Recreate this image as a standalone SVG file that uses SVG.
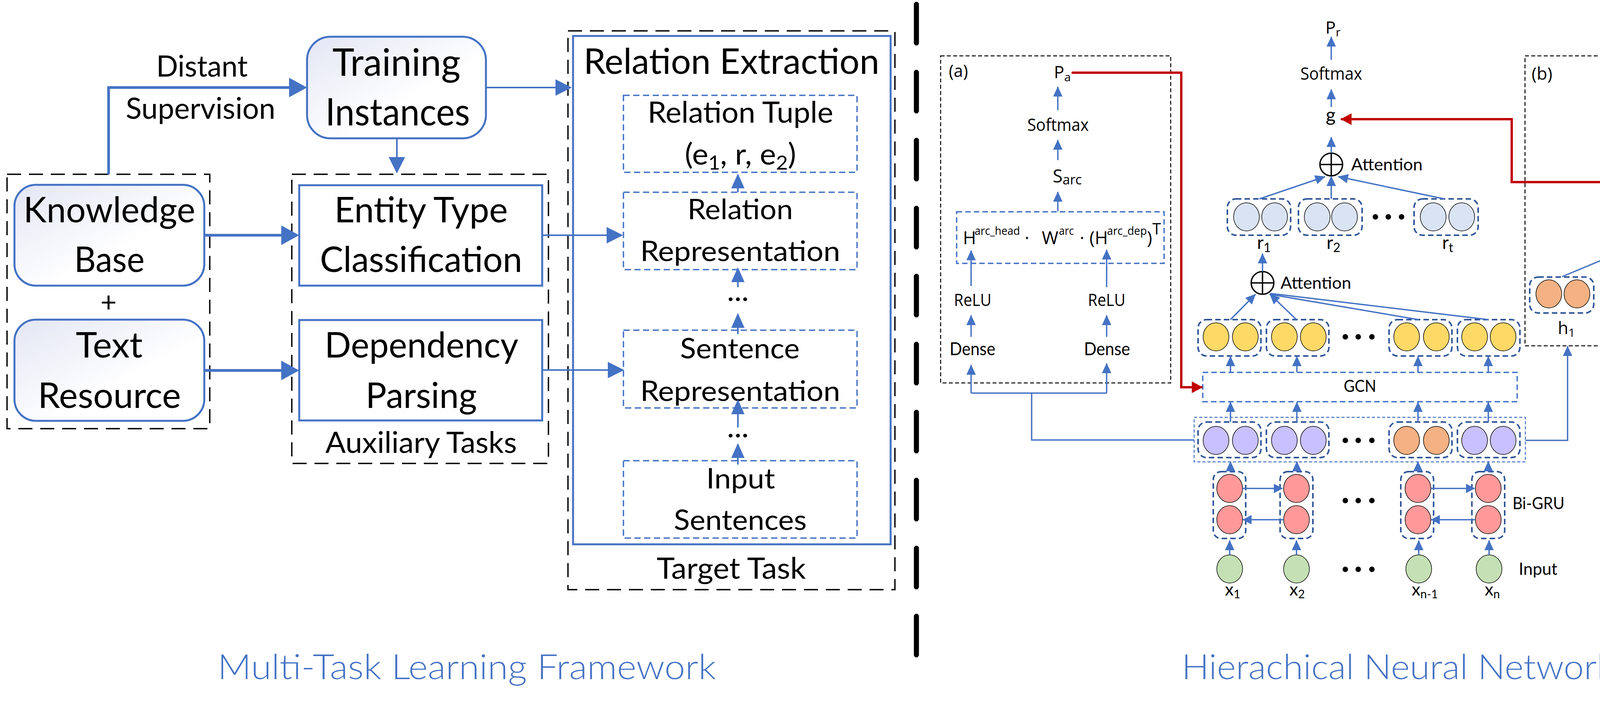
<svg xmlns="http://www.w3.org/2000/svg" width="4583" height="1817" viewBox="0 0 4583 1817">
<defs>
<style>
text{font-family:Lato,"Liberation Sans",sans-serif;fill:#000}
.os{font-family:"Open Sans","Liberation Sans",sans-serif}
.title{fill:#4472C4;font-weight:300;font-size:88px}
.kd{fill:none;stroke:#000;stroke-width:3.5;stroke-dasharray:36 20}
.kt{fill:none;stroke:#000;stroke-width:2.5;stroke-dasharray:10 6}
.rbox{fill:url(#grad);stroke:#4472C4;stroke-width:5}
.sbox{fill:#fff;stroke:#4472C4;stroke-width:5}
.bd{fill:none;stroke:#4472C4;stroke-width:3.5;stroke-dasharray:16 9}
.bdt{fill:none;stroke:#4472C4;stroke-width:2.5;stroke-dasharray:8 5}
.grp{fill:none;stroke:#2F5597;stroke-width:4;stroke-dasharray:14 8}
.e{stroke:#000;stroke-width:1.5}
.yel{fill:#FFD966}.pur{fill:#C9C0FF}.ora{fill:#F4B183}.rd{fill:#FF9999}.grn{fill:#C5E0B4}.lb{fill:#DAE3F3}
.thick{fill:none;stroke:#4472C4;stroke-width:7}
.mid{fill:none;stroke:#4472C4;stroke-width:4}
.thin{fill:none;stroke:#4472C4;stroke-width:3.5}
.redl{fill:none;stroke:#C00000;stroke-width:6;stroke-linecap:round}
.dot{fill:#000}
.op{fill:none;stroke:#000;stroke-width:3.5}
</style>
<linearGradient id="grad" x1="0" y1="0" x2="1" y2="1">
<stop offset="0" stop-color="#E3E6F4"/><stop offset="0.6" stop-color="#FFFFFF"/>
</linearGradient>
<marker id="aThick" markerUnits="userSpaceOnUse" markerWidth="46" markerHeight="50" refX="39" refY="25" orient="auto"><path d="M0,0 L46,25 L0,50 z" fill="#4472C4"/></marker>
<marker id="aMid" markerUnits="userSpaceOnUse" markerWidth="42" markerHeight="42" refX="38" refY="21" orient="auto"><path d="M0,0 L42,21 L0,42 z" fill="#4472C4"/></marker>
<marker id="aSm" markerUnits="userSpaceOnUse" markerWidth="38" markerHeight="34" refX="35" refY="17" orient="auto"><path d="M0,0 L38,17 L0,34 z" fill="#4472C4"/></marker>
<marker id="aT" markerUnits="userSpaceOnUse" markerWidth="26" markerHeight="24" refX="25" refY="12" orient="auto"><path d="M0,0 L26,12 L0,24 z" fill="#4472C4"/></marker>
<marker id="aG" markerUnits="userSpaceOnUse" markerWidth="23" markerHeight="24" refX="22" refY="12" orient="auto"><path d="M0,0 L23,12 L0,24 z" fill="#4472C4"/></marker>
<marker id="aR" markerUnits="userSpaceOnUse" markerWidth="28" markerHeight="30" refX="25" refY="15" orient="auto"><path d="M0,0 L28,15 L0,30 z" fill="#C00000"/></marker>
</defs>
<rect width="4583" height="1817" fill="#fff"/>

<!-- LEFT PANEL -->
<g id="kb-group"><rect class="kd" x="18" y="446" width="519" height="651"/>
<text x="278" y="798" font-size="72" text-anchor="middle">+</text></g>
<g id="knowledge-base"><rect class="rbox" x="37" y="473" width="486" height="258" rx="55"/>
<text x="60" y="569" font-size="92" textLength="440" lengthAdjust="spacingAndGlyphs">Knowledge</text>
<text x="190" y="696" font-size="92" textLength="180" lengthAdjust="spacingAndGlyphs">Base</text></g>
<g id="text-resource"><rect class="rbox" x="37" y="818" width="486" height="259" rx="55"/>
<text x="194" y="915" font-size="92" textLength="171" lengthAdjust="spacingAndGlyphs">Text</text>
<text x="97" y="1044" font-size="92" textLength="366" lengthAdjust="spacingAndGlyphs">Resource</text></g>
<g id="training-instances"><rect class="rbox" x="786" y="94" width="458" height="260" rx="60"/>
<text x="851" y="194" font-size="96" textLength="328" lengthAdjust="spacingAndGlyphs">Training</text>
<text x="833" y="321" font-size="96" textLength="370" lengthAdjust="spacingAndGlyphs">Instances</text></g>
<g id="auxiliary-tasks"><rect class="kd" x="747" y="446" width="657" height="740"/>
<text x="833" y="1159" font-size="76" textLength="490" lengthAdjust="spacingAndGlyphs">Auxiliary Tasks</text></g>
<g id="entity-type"><rect class="sbox" x="766" y="474" width="622" height="257"/>
<text x="856" y="569" font-size="92" textLength="444" lengthAdjust="spacingAndGlyphs">Entity Type</text>
<text x="819" y="696" font-size="92" textLength="518" lengthAdjust="spacingAndGlyphs">Classification</text></g>
<g id="dependency-parsing"><rect class="sbox" x="766" y="819" width="622" height="257"/>
<text x="831" y="915" font-size="92" textLength="496" lengthAdjust="spacingAndGlyphs">Dependency</text>
<text x="936" y="1044" font-size="92" textLength="285" lengthAdjust="spacingAndGlyphs">Parsing</text></g>
<g id="target-task"><rect class="kd" x="1454" y="79" width="837" height="1430"/>
<text x="1681" y="1481" font-size="75" textLength="382" lengthAdjust="spacingAndGlyphs">Target Task</text></g>
<g id="relation-extraction"><rect fill="none" stroke="#4472C4" stroke-width="5" x="1467" y="92" width="813" height="1301"/>
<text x="1494" y="189" font-size="92" textLength="757" lengthAdjust="spacingAndGlyphs">Relation Extraction</text></g>
<g id="relation-tuple"><rect class="bd" x="1596" y="244" width="598" height="197"/>
<text x="1658" y="314" font-size="75" textLength="475" lengthAdjust="spacingAndGlyphs">Relation Tuple</text>
<text x="1753" y="421" font-size="75" textLength="285" lengthAdjust="spacingAndGlyphs">(e<tspan font-size="50" dy="13">1</tspan><tspan dy="-13">, r, e</tspan><tspan font-size="50" dy="13">2</tspan><tspan dy="-13">)</tspan></text></g>
<g id="relation-representation"><rect class="bd" x="1596" y="492" width="598" height="198"/>
<text x="1760" y="561" font-size="72" textLength="270" lengthAdjust="spacingAndGlyphs">Relation</text>
<text x="1639" y="668" font-size="72" textLength="512" lengthAdjust="spacingAndGlyphs">Representation</text></g>
<text id="dots-1" x="1861" y="770" font-size="75" textLength="56" lengthAdjust="spacingAndGlyphs">...</text>
<g id="sentence-representation"><rect class="bd" x="1596" y="845" width="598" height="199"/>
<text x="1741" y="917" font-size="72" textLength="306" lengthAdjust="spacingAndGlyphs">Sentence</text>
<text x="1639" y="1026" font-size="72" textLength="512" lengthAdjust="spacingAndGlyphs">Representation</text></g>
<text id="dots-2" x="1861" y="1119" font-size="75" textLength="56" lengthAdjust="spacingAndGlyphs">...</text>
<g id="input-sentences"><rect class="bd" x="1596" y="1179" width="598" height="198"/>
<text x="1808" y="1250" font-size="72" textLength="176" lengthAdjust="spacingAndGlyphs">Input</text>
<text x="1725" y="1356" font-size="72" textLength="340" lengthAdjust="spacingAndGlyphs">Sentences</text></g>
<g id="distant-supervision-label">
<text x="400" y="196" font-size="75" textLength="234" lengthAdjust="spacingAndGlyphs">Distant</text>
<text x="322" y="304" font-size="75" textLength="383" lengthAdjust="spacingAndGlyphs">Supervision</text></g>
<text id="title-left" class="title" x="557" y="1738" textLength="1276" lengthAdjust="spacingAndGlyphs">Multi-Task Learning Framework</text>

<!-- divider -->
<line id="divider" x1="2346" y1="11" x2="2346" y2="1690" stroke="#000" stroke-width="13" stroke-linecap="round" stroke-dasharray="99 75"/>

<!-- RIGHT PANEL nodes -->
<g id="box-a"><rect class="kt" x="2408" y="143" width="589" height="837"/>
<text class="os" x="2429" y="197" font-size="44" textLength="49" lengthAdjust="spacingAndGlyphs">(a)</text></g>
<text id="pa" class="os" x="2698" y="200" font-size="44">P<tspan font-size="30" dy="8">a</tspan></text>
<text id="softmax-a" class="os" x="2630" y="335" font-size="44" textLength="157" lengthAdjust="spacingAndGlyphs">Softmax</text>
<text id="sarc" class="os" x="2695" y="467" font-size="46">S<tspan font-size="34" dy="5">arc</tspan></text>
<g id="biaffine"><rect class="bd" x="2449" y="542" width="531" height="132" style="stroke-dasharray:14 8"/>
<text class="os" x="2465" y="625" font-size="46">H</text>
<text class="os" x="2495" y="601" font-size="30" textLength="116" lengthAdjust="spacingAndGlyphs">arc_head</text>
<text class="os" x="2629" y="625" font-size="46" text-anchor="middle">·</text>
<text class="os" x="2667" y="625" font-size="46">W</text>
<text class="os" x="2711" y="601" font-size="30" textLength="38" lengthAdjust="spacingAndGlyphs">arc</text>
<text class="os" x="2770" y="625" font-size="46" text-anchor="middle">·</text>
<text class="os" x="2789" y="625" font-size="46">(H</text>
<text class="os" x="2834" y="601" font-size="30" textLength="102" lengthAdjust="spacingAndGlyphs">arc_dep</text>
<text class="os" x="2936" y="625" font-size="46">)</text>
<text class="os" x="2950" y="600" font-size="40">T</text></g>
<text id="relu-l" class="os" x="2442" y="783" font-size="44" textLength="96" lengthAdjust="spacingAndGlyphs">ReLU</text>
<text id="relu-r" class="os" x="2785" y="783" font-size="44" textLength="96" lengthAdjust="spacingAndGlyphs">ReLU</text>
<text id="dense-l" x="2431" y="909" font-size="46" textLength="117" lengthAdjust="spacingAndGlyphs">Dense</text>
<text id="dense-r" x="2775" y="909" font-size="46" textLength="118" lengthAdjust="spacingAndGlyphs">Dense</text>

<text id="pr" class="os" x="3393" y="86" font-size="44">P<tspan font-size="30" dy="7">r</tspan></text>
<text id="softmax-r" class="os" x="3329" y="204" font-size="44" textLength="158" lengthAdjust="spacingAndGlyphs">Softmax</text>
<text id="g" x="3394" y="311" font-size="48">g</text>
<g id="att-top"><circle class="op" cx="3408" cy="421" r="29"/><path class="op" d="M3379,421 H3437 M3408,392 V450"/>
<text x="3459" y="436" font-size="42" textLength="183" lengthAdjust="spacingAndGlyphs">Attention</text></g>
<g id="r-1"><rect class="grp" x="3142" y="509" width="162" height="93" rx="22"/>
<ellipse class="e lb" cx="3191" cy="555" rx="33" ry="36"/><ellipse class="e lb" cx="3263" cy="555" rx="33" ry="36"/>
<text x="3218" y="637" font-size="46">r<tspan font-size="32" dy="8">1</tspan></text></g>
<g id="r-2"><rect class="grp" x="3324" y="509" width="163" height="93" rx="22"/>
<ellipse class="e lb" cx="3372" cy="555" rx="33" ry="36"/><ellipse class="e lb" cx="3442" cy="555" rx="33" ry="36"/>
<text x="3396" y="637" font-size="46">r<tspan font-size="32" dy="8">2</tspan></text></g>
<g id="r-t"><rect class="grp" x="3620" y="509" width="164" height="93" rx="22"/>
<ellipse class="e lb" cx="3669" cy="555" rx="33" ry="36"/><ellipse class="e lb" cx="3742" cy="555" rx="33" ry="36"/>
<text x="3692" y="637" font-size="46">r<tspan font-size="32" dy="8">t</tspan></text></g>
<g id="dots-r"><circle class="dot" cx="3521" cy="555" r="7"/><circle class="dot" cx="3554" cy="555" r="7"/><circle class="dot" cx="3588" cy="555" r="7"/></g>
<g id="att-low"><circle class="op" cx="3232" cy="724" r="29"/><path class="op" d="M3203,724 H3261 M3232,695 V753"/>
<text x="3278" y="739" font-size="42" textLength="181" lengthAdjust="spacingAndGlyphs">Attention</text></g>

<g id="gcn-out">
<rect class="grp" x="3067" y="818" width="161" height="93" rx="22"/>
<rect class="grp" x="3242" y="818" width="160" height="93" rx="22"/>
<rect class="grp" x="3556" y="818" width="161" height="93" rx="22"/>
<rect class="grp" x="3731" y="818" width="160" height="93" rx="22"/>
<ellipse class="e yel" cx="3113" cy="862" rx="33" ry="36"/><ellipse class="e yel" cx="3188" cy="862" rx="33" ry="36"/>
<ellipse class="e yel" cx="3288" cy="862" rx="33" ry="36"/><ellipse class="e yel" cx="3362" cy="862" rx="33" ry="36"/>
<ellipse class="e yel" cx="3601" cy="862" rx="33" ry="36"/><ellipse class="e yel" cx="3677" cy="862" rx="33" ry="36"/>
<ellipse class="e yel" cx="3775" cy="862" rx="33" ry="36"/><ellipse class="e yel" cx="3848" cy="862" rx="33" ry="36"/>
<circle class="dot" cx="3444" cy="862" r="7"/><circle class="dot" cx="3477" cy="862" r="7"/><circle class="dot" cx="3512" cy="862" r="7"/></g>
<g id="gcn"><rect class="bd" x="3079" y="953" width="805" height="75" style="stroke-dasharray:14 8"/>
<text x="3440" y="1003" font-size="42" textLength="83" lengthAdjust="spacingAndGlyphs">GCN</text></g>
<g id="bigru-out"><rect class="bdt" x="3057" y="1068" width="848" height="114"/>
<rect class="grp" x="3067" y="1080" width="161" height="91" rx="22"/>
<rect class="grp" x="3242" y="1080" width="160" height="91" rx="22"/>
<rect class="grp" x="3556" y="1080" width="161" height="91" rx="22"/>
<rect class="grp" x="3731" y="1080" width="160" height="91" rx="22"/>
<ellipse class="e pur" cx="3113" cy="1127" rx="33" ry="36"/><ellipse class="e pur" cx="3188" cy="1127" rx="33" ry="36"/>
<ellipse class="e pur" cx="3288" cy="1127" rx="33" ry="36"/><ellipse class="e pur" cx="3362" cy="1127" rx="33" ry="36"/>
<ellipse class="e ora" cx="3601" cy="1127" rx="33" ry="36"/><ellipse class="e ora" cx="3677" cy="1127" rx="33" ry="36"/>
<ellipse class="e pur" cx="3775" cy="1127" rx="33" ry="36"/><ellipse class="e pur" cx="3848" cy="1127" rx="33" ry="36"/>
<circle class="dot" cx="3444" cy="1127" r="7"/><circle class="dot" cx="3477" cy="1127" r="7"/><circle class="dot" cx="3512" cy="1127" r="7"/></g>
<g id="bigru">
<rect class="grp" x="3106" y="1207" width="83" height="171" rx="20"/>
<rect class="grp" x="3277" y="1207" width="84" height="171" rx="20"/>
<rect class="grp" x="3586" y="1207" width="84" height="171" rx="20"/>
<rect class="grp" x="3768" y="1207" width="84" height="171" rx="20"/>
<ellipse class="e rd" cx="3148" cy="1250" rx="33" ry="36"/><ellipse class="e rd" cx="3148" cy="1330" rx="33" ry="36"/>
<ellipse class="e rd" cx="3319" cy="1250" rx="33" ry="36"/><ellipse class="e rd" cx="3319" cy="1330" rx="33" ry="36"/>
<ellipse class="e rd" cx="3630" cy="1250" rx="33" ry="36"/><ellipse class="e rd" cx="3630" cy="1330" rx="33" ry="36"/>
<ellipse class="e rd" cx="3810" cy="1250" rx="33" ry="36"/><ellipse class="e rd" cx="3810" cy="1330" rx="33" ry="36"/>
<circle class="dot" cx="3444" cy="1281" r="7"/><circle class="dot" cx="3477" cy="1281" r="7"/><circle class="dot" cx="3512" cy="1281" r="7"/>
<text x="3872" y="1303" font-size="43" textLength="133" lengthAdjust="spacingAndGlyphs">Bi-GRU</text></g>
<g id="input">
<ellipse class="e grn" cx="3148" cy="1456" rx="33" ry="36"/><ellipse class="e grn" cx="3319" cy="1456" rx="33" ry="36"/>
<ellipse class="e grn" cx="3632" cy="1456" rx="33" ry="36"/><ellipse class="e grn" cx="3812" cy="1456" rx="33" ry="36"/>
<circle class="dot" cx="3444" cy="1457" r="7"/><circle class="dot" cx="3477" cy="1457" r="7"/><circle class="dot" cx="3512" cy="1457" r="7"/>
<text x="3888" y="1471" font-size="43" textLength="99" lengthAdjust="spacingAndGlyphs">Input</text>
<text x="3136" y="1524" font-size="44">x<tspan font-size="30" dy="7">1</tspan></text>
<text x="3301" y="1524" font-size="44">x<tspan font-size="30" dy="7">2</tspan></text>
<text x="3614" y="1524" font-size="44">x<tspan font-size="30" dy="7">n-1</tspan></text>
<text x="3801" y="1524" font-size="44">x<tspan font-size="30" dy="7">n</tspan></text></g>

<g id="box-b"><rect class="kt" x="3904" y="143" width="674" height="742"/>
<text class="os" x="3921" y="204" font-size="44" textLength="53" lengthAdjust="spacingAndGlyphs">(b)</text></g>
<text id="pe" class="os" x="4169" y="201" font-size="44">P<tspan font-size="30" dy="6">e</tspan></text>
<text id="softmax-b" class="os" x="4107" y="328" font-size="44" textLength="158" lengthAdjust="spacingAndGlyphs">Softmax</text>
<text id="ehead" class="os" x="4172" y="480" font-size="44">e<tspan x="4195" font-size="30" dy="7">head</tspan><tspan x="4271" dy="-7">(</tspan><tspan x="4294">e</tspan><tspan x="4320" font-size="30" dy="7">tail</tspan><tspan x="4372" dy="-7">)</tspan></text>
<g id="att-b"><circle class="op" cx="4188" cy="597" r="30"/><path class="op" d="M4158,597 H4218 M4188,567 V627"/>
<text class="os" x="4234" y="607" font-size="44" textLength="183" lengthAdjust="spacingAndGlyphs">Attention</text></g>
<g id="h-groups">
<rect class="grp" x="3916" y="709" width="164" height="92" rx="22"/>
<rect class="grp" x="4101" y="709" width="164" height="92" rx="22"/>
<rect class="grp" x="4398" y="709" width="164" height="92" rx="22"/>
<ellipse class="e ora" cx="3965" cy="752" rx="33" ry="36"/><ellipse class="e ora" cx="4037" cy="752" rx="33" ry="36"/>
<ellipse class="e ora" cx="4148" cy="752" rx="33" ry="36"/><ellipse class="e ora" cx="4218" cy="752" rx="33" ry="36"/>
<ellipse class="e ora" cx="4445" cy="752" rx="33" ry="36"/><ellipse class="e ora" cx="4516" cy="752" rx="33" ry="36"/>
<circle class="dot" cx="4298" cy="752" r="7"/><circle class="dot" cx="4332" cy="752" r="7"/><circle class="dot" cx="4366" cy="752" r="7"/>
<text class="os" x="3988" y="855" font-size="44">h<tspan font-size="30" dy="7">1</tspan></text>
<text class="os" x="4168" y="855" font-size="44">h<tspan font-size="30" dy="7">2</tspan></text>
<text class="os" x="4460" y="855" font-size="44">h<tspan font-size="30" dy="7">t</tspan></text></g>
<text id="title-right" class="title" x="3025" y="1738" textLength="1107" lengthAdjust="spacingAndGlyphs">Hierachical Neural Network</text>

<!-- CONNECTORS -->
<g id="connectors">
<path class="thick" d="M278,446 V224 H779" marker-end="url(#aThick)"/>
<path class="thick" d="M523,602 H759" marker-end="url(#aThick)"/>
<path class="thick" d="M523,948 H759" marker-end="url(#aThick)"/>
<path class="mid" d="M1016,354 V440" marker-end="url(#aMid)"/>
<path class="mid" d="M1244,224 H1460" marker-end="url(#aMid)"/>
<path class="mid" d="M1388,602 H1591" marker-end="url(#aMid)"/>
<path class="mid" d="M1388,947 H1594" marker-end="url(#aMid)"/>
<path class="mid" d="M1889,492 V447" marker-end="url(#aSm)"/>
<path class="mid" d="M1889,735 V687" marker-end="url(#aSm)"/>
<path class="mid" d="M1889,855 V804" marker-end="url(#aSm)"/>
<path class="mid" d="M1889,1094 V1025" marker-end="url(#aSm)"/>
<path class="mid" d="M1889,1189 V1137" marker-end="url(#aSm)"/>

<path class="thin" d="M2708,282 V222" marker-end="url(#aT)"/>
<path class="thin" d="M2708,410 V358" marker-end="url(#aT)"/>
<path class="thin" d="M2708,541 V491" marker-end="url(#aT)"/>
<path class="thin" d="M2486,732 V641" marker-end="url(#aT)"/>
<path class="thin" d="M2833,735 V639" marker-end="url(#aT)"/>
<path class="thin" d="M2486,862 V807" marker-end="url(#aT)"/>
<path class="thin" d="M2833,862 V807" marker-end="url(#aT)"/>
<path class="thin" d="M2486,1006 V934" marker-end="url(#aT)"/>
<path class="thin" d="M2833,1006 V930" marker-end="url(#aT)"/>
<path class="thin" d="M2486,1006 H2833 M2641,1006 V1126 H3057"/>

<path class="thin" d="M3408,153 V94" marker-end="url(#aT)"/>
<path class="thin" d="M3408,274 V229" marker-end="url(#aT)"/>
<path class="thin" d="M3408,391 V351" marker-end="url(#aT)"/>
<path class="thin" d="M3224,509 L3392,452" marker-end="url(#aT)"/>
<path class="thin" d="M3408,509 V451" marker-end="url(#aT)"/>
<path class="thin" d="M3697,509 L3426,452" marker-end="url(#aT)"/>
<path class="thin" d="M3232,695 V649" marker-end="url(#aT)"/>
<path class="thin" d="M3150,818 L3214,753" marker-end="url(#aT)"/>
<path class="thin" d="M3319,818 L3251,753" marker-end="url(#aT)"/>
<path class="thin" d="M3631,818 L3250,753"/>
<path class="thin" d="M3810,818 L3252,751"/>

<path class="thin" d="M3150,953 V912" marker-end="url(#aT)"/>
<path class="thin" d="M3320,953 V912" marker-end="url(#aT)"/>
<path class="thin" d="M3630,953 V912" marker-end="url(#aT)"/>
<path class="thin" d="M3810,953 V912" marker-end="url(#aT)"/>
<path class="thin" d="M3150,1080 V1029" marker-end="url(#aT)"/>
<path class="thin" d="M3320,1080 V1029" marker-end="url(#aT)"/>
<path class="thin" d="M3630,1080 V1029" marker-end="url(#aT)"/>
<path class="thin" d="M3810,1080 V1029" marker-end="url(#aT)"/>
<path class="thin" d="M3150,1207 V1181" marker-end="url(#aT)"/>
<path class="thin" d="M3320,1207 V1181" marker-end="url(#aT)"/>
<path class="thin" d="M3630,1207 V1181" marker-end="url(#aT)"/>
<path class="thin" d="M3810,1207 V1181" marker-end="url(#aT)"/>
<path class="thin" d="M3148,1420 V1383" marker-end="url(#aT)"/>
<path class="thin" d="M3319,1420 V1383" marker-end="url(#aT)"/>
<path class="thin" d="M3632,1420 V1383" marker-end="url(#aT)"/>
<path class="thin" d="M3812,1420 V1383" marker-end="url(#aT)"/>
<path class="thin" d="M3181,1250 H3283" marker-end="url(#aG)"/>
<path class="thin" d="M3286,1330 H3182" marker-end="url(#aG)"/>
<path class="thin" d="M3663,1250 H3775" marker-end="url(#aG)"/>
<path class="thin" d="M3777,1330 H3664" marker-end="url(#aG)"/>
<path class="thin" d="M3905,1127 H4013 V886" marker-end="url(#aT)"/>

<path class="thin" d="M4187,272 V210" marker-end="url(#aT)"/>
<path class="thin" d="M4187,426 V353" marker-end="url(#aT)"/>
<path class="thin" d="M4188,566 V509" marker-end="url(#aT)"/>
<path class="thin" d="M3999,708 L4172,636" marker-end="url(#aT)"/>
<path class="thin" d="M4189,708 V629" marker-end="url(#aT)"/>
<path class="thin" d="M4481,708 L4206,634" marker-end="url(#aT)"/>

<path class="redl" d="M2746,186 H3024 V991 H3076" marker-end="url(#aR)"/>
<path class="redl" d="M4159,466 H3870 V305 H3435" marker-end="url(#aR)"/>
</g>
</svg>
